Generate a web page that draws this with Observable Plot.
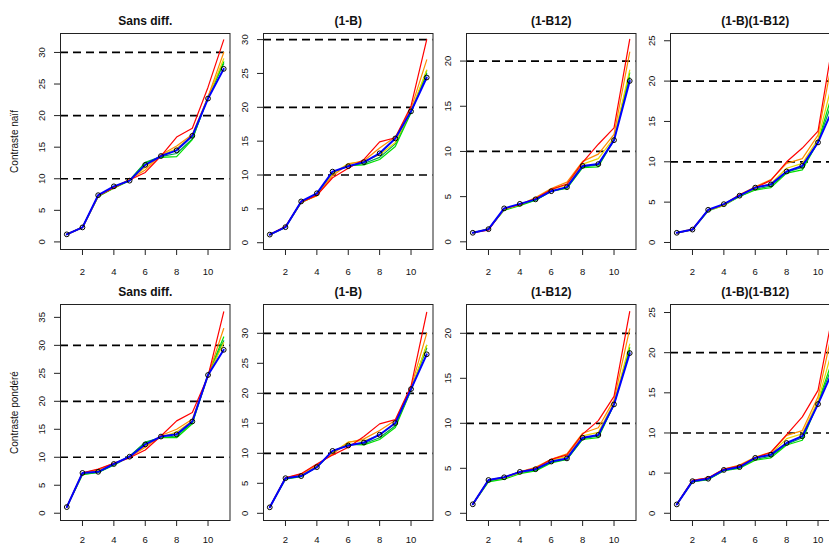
<!DOCTYPE html>
<html><head><meta charset="utf-8">
<script src="https://cdn.jsdelivr.net/npm/d3@7"></script>
<script src="https://cdn.jsdelivr.net/npm/@observablehq/plot@0.6"></script>
<style>
html,body{margin:0;padding:0;background:#fff;}
#chart{position:relative;width:829px;height:545px;overflow:hidden;background:#fff;font-family:"Liberation Sans",Arial,sans-serif;}
#chart svg{position:absolute;}
</style></head><body><div id="chart"></div>
<script>
// ---- data ----
const xs = [1,2,3,4,5,6,7,8,9,10,11];
const panelTitles = ["Sans diff.", "(1-B)", "(1-B12)", "(1-B)(1-B12)"];
const rowLabels = ["Contraste naïf", "Contraste pondéré"];
const xTicks = [2,4,6,8,10];
const refLevels = [10, 20, 30];
// series order: red, orange, yellow, green, darkgreen, blue
const seriesNames = ["red","orange","yellow","green","darkgreen","blue"];
const seriesColors = ["#FF0000","#FF8C00","#E8D800","#00E000","#00A050","#0000FF"];

// Contraste naïf
const naifSans = [
  [1.2, 2.3, 7.3, 8.6, 9.8, 11.0, 13.6, 16.6, 18.0, 24.5, 32.0],
  [1.2, 2.3, 7.3, 8.6, 9.9, 11.4, 13.8, 15.2, 17.0, 23.0, 30.0],
  [1.2, 2.3, 7.3, 8.7, 9.8, 11.8, 13.7, 14.8, 16.8, 22.8, 29.0],
  [1.2, 2.3, 7.2, 8.5, 9.7, 12.5, 13.4, 13.5, 16.2, 23.0, 28.5],
  [1.2, 2.3, 7.2, 8.6, 9.8, 12.6, 13.5, 14.0, 16.3, 22.9, 28.2],
  [1.2, 2.3, 7.4, 8.8, 9.7, 12.2, 13.6, 14.5, 16.8, 22.7, 27.4]
];
const naifB = [
  [1.2, 2.4, 6.0, 7.0, 9.6, 11.0, 12.3, 14.9, 15.5, 20.2, 30.0],
  [1.2, 2.4, 6.0, 7.0, 9.9, 11.6, 12.1, 14.0, 15.6, 19.8, 27.0],
  [1.2, 2.3, 6.0, 6.9, 10.2, 11.7, 12.0, 13.0, 14.8, 19.5, 25.5],
  [1.2, 2.3, 5.9, 7.0, 10.3, 11.4, 11.5, 12.3, 14.2, 19.2, 25.4],
  [1.2, 2.3, 6.0, 7.1, 10.4, 11.3, 11.7, 12.6, 14.6, 19.3, 25.0],
  [1.2, 2.3, 6.1, 7.3, 10.5, 11.3, 11.9, 13.2, 15.4, 19.4, 24.4]
];
const naifB12 = [
  [1.0, 1.3, 3.7, 4.1, 4.8, 5.8, 6.4, 8.8, 10.8, 12.6, 22.4],
  [1.0, 1.4, 3.6, 4.1, 4.9, 5.9, 6.6, 8.9, 9.7, 11.9, 21.0],
  [1.0, 1.4, 3.6, 4.1, 4.8, 5.8, 6.3, 8.6, 9.2, 11.5, 19.0],
  [1.0, 1.4, 3.5, 4.0, 4.6, 5.6, 5.9, 8.2, 8.3, 11.3, 18.7],
  [1.0, 1.4, 3.6, 4.1, 4.6, 5.6, 6.0, 8.3, 8.5, 11.3, 18.2],
  [1.0, 1.4, 3.7, 4.2, 4.7, 5.6, 6.05, 8.4, 8.6, 11.25, 17.8]
];
const naifBB12 = [
  [1.2, 1.6, 4.0, 4.7, 5.9, 6.8, 7.7, 10.0, 11.7, 13.8, 25.5],
  [1.2, 1.7, 4.0, 4.7, 5.9, 6.9, 7.8, 9.8, 10.4, 13.3, 23.5],
  [1.2, 1.6, 4.0, 4.6, 5.8, 6.7, 7.3, 9.2, 9.8, 12.8, 20.5],
  [1.2, 1.6, 3.9, 4.6, 5.7, 6.5, 6.8, 8.6, 9.0, 12.5, 19.0],
  [1.2, 1.6, 4.0, 4.7, 5.7, 6.6, 7.0, 8.7, 9.3, 12.4, 18.0],
  [1.2, 1.6, 4.05, 4.75, 5.8, 6.8, 7.2, 8.8, 9.5, 12.4, 16.8]
];
// Contraste pondéré
const pondSans = [
  [1.1, 7.2, 7.9, 8.9, 9.9, 11.3, 13.8, 16.5, 18.0, 24.5, 36.0],
  [1.1, 7.2, 7.8, 8.9, 10.0, 11.8, 13.9, 15.0, 16.8, 24.6, 33.0],
  [1.1, 7.1, 7.6, 8.8, 10.0, 12.0, 13.6, 14.5, 16.5, 24.5, 30.5],
  [1.1, 6.9, 7.3, 8.6, 10.1, 12.6, 13.5, 13.5, 16.0, 24.8, 31.5],
  [1.1, 7.0, 7.3, 8.7, 10.2, 12.7, 13.5, 13.8, 16.2, 24.7, 30.8],
  [1.1, 7.2, 7.4, 8.8, 10.1, 12.3, 13.7, 14.1, 16.4, 24.7, 29.2]
];
const pondB = [
  [1.0, 5.9, 6.6, 8.2, 9.7, 11.0, 12.8, 14.9, 15.6, 21.2, 33.5],
  [1.0, 5.9, 6.5, 8.1, 9.9, 11.8, 12.4, 13.8, 15.5, 21.0, 30.0],
  [1.0, 5.9, 6.4, 7.9, 10.1, 11.9, 12.1, 13.0, 15.0, 20.6, 28.0],
  [1.0, 5.7, 6.1, 7.7, 10.3, 11.5, 11.4, 12.3, 14.3, 20.5, 28.0],
  [1.0, 5.8, 6.2, 7.7, 10.3, 11.4, 11.6, 12.6, 14.6, 20.6, 27.5],
  [1.0, 5.85, 6.2, 7.7, 10.4, 11.3, 11.8, 13.1, 15.05, 20.7, 26.5]
];
const pondB12 = [
  [1.0, 3.7, 4.0, 4.6, 5.0, 6.0, 6.5, 8.8, 10.3, 13.0, 22.4],
  [1.0, 3.7, 4.0, 4.6, 5.1, 6.0, 6.6, 8.9, 9.5, 12.6, 20.5],
  [1.0, 3.7, 3.9, 4.5, 5.0, 5.9, 6.3, 8.6, 9.0, 12.3, 18.8],
  [1.0, 3.5, 3.8, 4.4, 4.7, 5.6, 6.0, 8.2, 8.4, 12.1, 18.4],
  [1.0, 3.6, 3.9, 4.5, 4.8, 5.7, 6.0, 8.3, 8.6, 12.1, 18.1],
  [1.0, 3.7, 4.0, 4.6, 4.9, 5.75, 6.1, 8.4, 8.7, 12.1, 17.8]
];
const pondBB12 = [
  [1.1, 4.1, 4.4, 5.5, 5.9, 6.9, 7.6, 9.8, 12.0, 15.3, 25.5],
  [1.1, 4.1, 4.4, 5.5, 6.0, 7.0, 7.6, 9.7, 10.3, 14.5, 23.5],
  [1.1, 4.0, 4.3, 5.4, 5.8, 6.8, 7.4, 9.3, 9.9, 14.0, 21.0],
  [1.1, 3.9, 4.2, 5.3, 5.6, 6.6, 6.9, 8.5, 9.1, 13.8, 19.5],
  [1.1, 4.0, 4.2, 5.3, 5.7, 6.7, 7.1, 8.6, 9.4, 13.7, 18.8],
  [1.1, 4.0, 4.3, 5.4, 5.75, 6.9, 7.3, 8.75, 9.6, 13.6, 18.0]
];
const yTicksList = [
  [0,5,10,15,20,25,30], [0,5,10,15,20,25,30], [0,5,10,15,20], [0,5,10,15,20,25],
  [0,5,10,15,20,25,30,35], [0,5,10,15,20,25,30], [0,5,10,15,20], [0,5,10,15,20,25]
];
const yDomains = [
  [-1.2, 33.0], [-1.0, 30.9], [-0.85, 23.05], [-0.87, 25.9],
  [-1.3, 37.3], [-1.2, 34.8], [-0.8, 23.2], [-0.9, 26.0]
];
const panelData = [naifSans, naifB, naifB12, naifBB12, pondSans, pondB, pondB12, pondBB12];

// ---- layout ----
const panelLefts = [60, 263, 466, 670];
const rowTops = [33.3, 304.3];
const xLabelOffsets = [22, 19];
const frameW = 169.5, frameH = 216;
const mL = 60, mT = 34, mR = 8, mB = 30;
const chart = document.getElementById("chart");
const fontFam = '"Liberation Sans", Arial, Helvetica, sans-serif';

panelData.forEach((series, i) => {
  const row = Math.floor(i / 4), col = i % 4;
  const rows = [];
  series.forEach((vals, s) => vals.forEach((v, k) => rows.push({x: xs[k], y: v, s})));
  const dom = yDomains[i];
  const levels = refLevels.filter(l => l > dom[0] && l < dom[1]);
  const marks = [];
  // dashed reference lines
  marks.push(Plot.ruleY(levels, {stroke: "#000", strokeWidth: 1.7, strokeDasharray: "8,5"}));
  // rainbow lines, drawn from green toward red, blue last
  [4, 3, 2, 1, 0].forEach(s => {
    marks.push(Plot.line(rows.filter(d => d.s === s), {x: "x", y: "y", stroke: seriesColors[s], strokeWidth: 1.2}));
  });
  const blue = rows.filter(d => d.s === 5);
  marks.push(Plot.line(blue, {x: "x", y: "y", stroke: seriesColors[5], strokeWidth: 2}));
  marks.push(Plot.dot(blue, {x: "x", y: "y", r: 2.4, stroke: "#000", fill: "none", strokeWidth: 1}));
  // frame
  marks.push(Plot.frame({stroke: "#222", strokeWidth: 1}));
  // axes ticks
  marks.push(Plot.axisY({ticks: yTicksList[i], tickSize: 6, tickFormat: () => "", label: null, stroke: "#222"}));
  marks.push(Plot.axisX({ticks: xTicks, tickSize: 6, tickFormat: () => "", label: null, stroke: "#222"}));
  // tick labels
  marks.push(Plot.text(yTicksList[i], {y: d => d, text: d => String(d), frameAnchor: "left", dx: -18.5, rotate: -90, textAnchor: "middle", lineAnchor: "middle", fontSize: 9.5, fill: "#111"}));
  marks.push(Plot.text(xTicks, {x: d => d, text: d => String(d), frameAnchor: "bottom", dy: xLabelOffsets[row], textAnchor: "middle", lineAnchor: "middle", fontSize: 9.5, fill: "#111"}));
  // title
  marks.push(Plot.text([panelTitles[col]], {frameAnchor: "top", dy: -12, text: d => d, fontSize: 12, fontWeight: "bold", lineAnchor: "middle", fill: "#111"}));
  // row label
  if (col === 0) {
    marks.push(Plot.text([rowLabels[row]], {frameAnchor: "left", dx: -46, rotate: -90, text: d => d, fontSize: 10, lineAnchor: "middle", textAnchor: "middle", fill: "#111"}));
  }
  const svg = Plot.plot({
    width: mL + frameW + mR,
    height: mT + frameH + mB,
    marginLeft: mL, marginTop: mT, marginRight: mR, marginBottom: mB,
    x: {domain: [0.6, 11.4]},
    y: {domain: dom},
    style: {background: "transparent", overflow: "visible", fontFamily: fontFam},
    marks
  });
  svg.style.left = (panelLefts[col] - mL) + "px";
  svg.style.top = (rowTops[row] - mT) + "px";
  chart.appendChild(svg);
});
</script></body></html>
